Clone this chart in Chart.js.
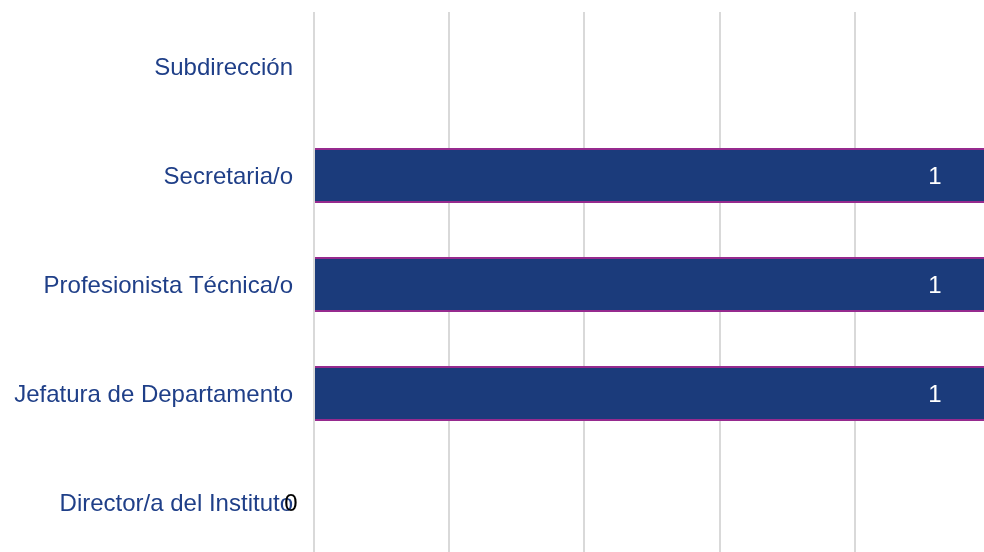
<!DOCTYPE html>
<html>
<head>
<meta charset="utf-8">
<script src="https://cdn.jsdelivr.net/npm/chart.js@4/dist/chart.umd.min.js"></script>
<style>
	html, body {
		margin: 0;
		padding: 0;
		background: #ffffff;
		overflow: hidden;
	}
	#contenedor {
		position: absolute;
		left: 0;
		top: 0;
		width: 990px;
		height: 557px;
	}
</style>
</head>
<body>
<div id="contenedor">
	<canvas id="graficoPuestos"></canvas>
</div>
<script>
// Datos del gráfico
var puestos = [
	"Subdirección",
	"Secretaria/o",
	"Profesionista Técnica/o",
	"Jefatura de Departamento",
	"Director/a del Instituto",
];
var cantidades = [null, 1, 1, 1, 0];

// Eje x: de 0 a 1 en pasos de 0.2
var ejeMin = 0;
var ejeMax = 1;
var ejePaso = 0.2;

// Etiquetas de valor sobre las barras
const etiquetasPlugin = {
	id: "etiquetas",
	afterDatasetsDraw(chart) {
		const ctx = chart.ctx;
		const meta = chart.getDatasetMeta(0);
		const escalaX = chart.scales.x;
		ctx.save();
		ctx.font = "24px 'Liberation Sans', Arial, sans-serif";
		ctx.textAlign = "center";
		ctx.textBaseline = "middle";
		meta.data.forEach(function (barra, i) {
			var valor = cantidades[i];
			if (valor === null || valor === undefined) return;
			if (valor > 0) {
				ctx.fillStyle = "#ffffff";
				ctx.fillText(String(valor), escalaX.getPixelForValue(valor) - 55, barra.y + 2);
			} else {
				ctx.fillStyle = "#000000";
				ctx.fillText(String(valor), escalaX.getPixelForValue(valor) - 23, barra.y + 2);
			}
		});
		ctx.restore();
	},
};

new Chart(document.getElementById("graficoPuestos"), {
	type: "bar",
	data: {
		labels: puestos,
		datasets: [
			{
				data: cantidades,
				backgroundColor: "#1b3b7b",
				borderColor: "#962a8e",
				borderWidth: { top: 2, bottom: 2, left: 0, right: 2 },
				borderSkipped: "start",
				barPercentage: 0.505,
				categoryPercentage: 1,
			},
		],
	},
	options: {
		indexAxis: "y",
		responsive: true,
		maintainAspectRatio: false,
		animation: false,
		layout: { padding: { top: 12, right: 0, bottom: 0, left: 0 } },
		plugins: {
			legend: { display: false },
			tooltip: { enabled: false },
		},
		scales: {
			x: {
				min: ejeMin,
				max: ejeMax,
				ticks: { display: false, stepSize: ejePaso },
				grid: { color: "#d9d9d9", lineWidth: 2, drawTicks: false },
				border: { display: false },
				afterFit(escala) {
					escala.height = 0;
					escala.paddingLeft = 0;
					escala.paddingRight = 0;
				},
			},
			y: {
				grid: { display: false, drawTicks: false },
				border: { display: false },
				ticks: {
					color: "#1f3f88",
					padding: 21,
					labelOffset: 2,
					font: { family: "'Liberation Sans', Arial, sans-serif", size: 24 },
				},
				afterFit(escala) {
					escala.width = 314;
					escala.paddingTop = 0;
					escala.paddingBottom = 0;
				},
			},
		},
	},
	plugins: [etiquetasPlugin],
});
</script>
</body>
</html>
